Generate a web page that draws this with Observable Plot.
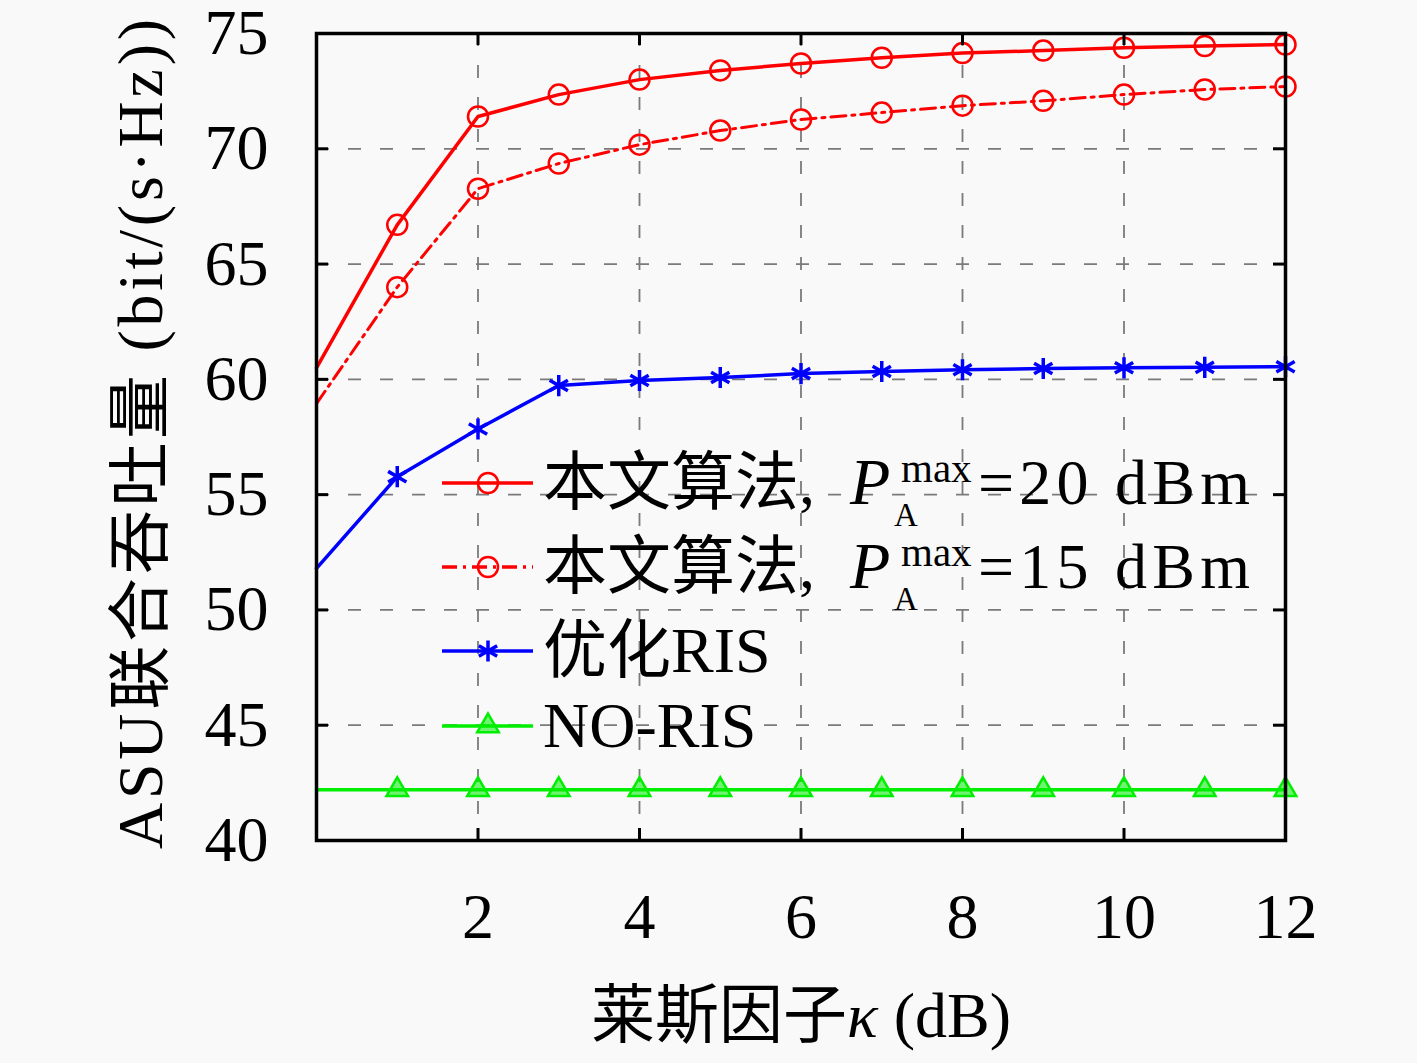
<!DOCTYPE html>
<html>
<head>
<meta charset="utf-8">
<script src="https://cdn.jsdelivr.net/npm/d3@7"></script>
<script src="https://cdn.jsdelivr.net/npm/@observablehq/plot@0.6"></script>
<style>
  html, body { margin: 0; padding: 0; background: #f9f9f9; }
  #chart svg { display: block; }
</style>
</head>
<body>
<div id="chart"></div>
<script>
// ---- data ----
const kappa  = [0, 1, 2, 3, 4, 5, 6, 7, 8, 9, 10, 11, 12];
const ours20 = [60.5, 66.7, 71.4, 72.35, 73.0, 73.4, 73.7, 73.95, 74.15, 74.26, 74.38, 74.46, 74.52];
const ours15 = [58.95, 64.0, 68.27, 69.36, 70.18, 70.79, 71.27, 71.57, 71.87, 72.08, 72.35, 72.57, 72.7];
const optRIS = [51.8, 55.78, 57.85, 59.73, 59.95, 60.08, 60.25, 60.34, 60.42, 60.47, 60.5, 60.52, 60.55];
const noRIS  = [42.2, 42.2, 42.2, 42.2, 42.2, 42.2, 42.2, 42.2, 42.2, 42.2, 42.2, 42.2, 42.2];

const xTicks = [2, 4, 6, 8, 10, 12];
const yTicks = [40, 45, 50, 55, 60, 65, 70, 75];
const xGrid = [2, 4, 6, 8, 10];
const yGrid = [45, 50, 55, 60, 65, 70];

const seriesNames = ["ours20", "ours15", "optRIS", "noRIS"];
const seriesValues = [ours20, ours15, optRIS, noRIS];
const rows = seriesNames.flatMap((s, i) => kappa.map((k, j) => ({series: s, x: k, y: seriesValues[i][j]})));
const markRows = rows.filter(d => d.x > 0);

const RED = "#ff0000", BLUE = "#0000ff", GREEN = "#00ee00";
const serif = "'Liberation Serif', 'Noto Sans CJK SC', serif";

const W = 1417, H = 1063, ML = 316, MR = 132, MT = 33, MB = 223;
const PW = W - ML - MR, PH = H - MT - MB;
const TL = 12;

const plot = Plot.plot({
  width: W, height: H,
  marginLeft: ML, marginRight: MR, marginTop: MT, marginBottom: MB,
  style: {background: "transparent", fontFamily: serif},
  x: {domain: [0, 12]},
  y: {domain: [40, 75]},
  marks: [
    Plot.ruleX(xGrid, {x: d => d, stroke: "#7a7a7a", strokeWidth: 1.8, strokeDasharray: "13,19"}),
    Plot.ruleY(yGrid, {y: d => d, stroke: "#7a7a7a", strokeWidth: 1.8, strokeDasharray: "13,19"}),
    Plot.line(rows.filter(d => d.series === "noRIS"), {x: "x", y: "y", stroke: GREEN, strokeWidth: 3.5}),
    Plot.line(rows.filter(d => d.series === "optRIS"), {x: "x", y: "y", stroke: BLUE, strokeWidth: 3.5}),
    Plot.line(rows.filter(d => d.series === "ours15"), {x: "x", y: "y", stroke: RED, strokeWidth: 3, strokeDasharray: "15,6,3,6"}),
    Plot.line(rows.filter(d => d.series === "ours20"), {x: "x", y: "y", stroke: RED, strokeWidth: 3.5}),
    Plot.dot(markRows.filter(d => d.series === "noRIS"), {x: "x", y: "y", symbol: "triangle", r: 8, fill: GREEN, fillOpacity: 0.55, stroke: GREEN, strokeWidth: 2.5}),
    Plot.dot(markRows.filter(d => d.series === "optRIS"), {x: "x", y: "y", symbol: "asterisk", r: 10, stroke: BLUE, strokeWidth: 3.5}),
    Plot.dot(markRows.filter(d => d.series === "ours15"), {x: "x", y: "y", symbol: "circle", r: 10, fill: "none", stroke: RED, strokeWidth: 2.5}),
    Plot.dot(markRows.filter(d => d.series === "ours20"), {x: "x", y: "y", symbol: "circle", r: 10, fill: "none", stroke: RED, strokeWidth: 2.5}),
    // inward tick marks on all four sides
    Plot.tickX(xTicks, {x: d => d, insetTop: PH - TL, stroke: "black", strokeWidth: 3}),
    Plot.tickX(xTicks, {x: d => d, insetBottom: PH - TL, stroke: "black", strokeWidth: 3}),
    Plot.tickY(yTicks, {y: d => d, insetRight: PW - TL, stroke: "black", strokeWidth: 3}),
    Plot.tickY(yTicks, {y: d => d, insetLeft: PW - TL, stroke: "black", strokeWidth: 3}),
    Plot.frame({stroke: "black", strokeWidth: 3.5}),
    Plot.axisX(xTicks, {tickSize: 0, tickPadding: 52, fontSize: 64, fontFamily: serif, fill: "black", label: null}),
    Plot.axisY(yTicks, {tickSize: 0, tickPadding: 48, fontSize: 64, fontFamily: serif, fill: "black", label: null})
  ]
});

document.getElementById("chart").appendChild(plot);

// ---- titles and legend (text) ----
const svg = d3.select(plot);
const g = svg.append("g")
  .attr("font-family", serif)
  .attr("fill", "black")
  .attr("text-anchor", "start");

// y title
g.append("text")
  .attr("transform", "translate(140,434) rotate(-90)")
  .attr("text-anchor", "middle")
  .attr("dominant-baseline", "central")
  .attr("font-size", 64)
  .attr("textLength", 830)
  .attr("lengthAdjust", "spacing")
  .text("ASU联合吞吐量 (bit/(s·Hz))");

// x title
const xt = g.append("text")
  .attr("x", 801).attr("y", 1037)
  .attr("text-anchor", "middle")
  .attr("font-size", 64);
xt.append("tspan").text("莱斯因子");
xt.append("tspan").attr("font-style", "italic").text("κ");
xt.append("tspan").text(" (dB)");

// legend
const legend = [
  {sy: 483, color: RED, dash: null, sym: d3.symbolCircle, r: 10, fill: "none", kind: "math", val: "=20 dBm"},
  {sy: 567, color: RED, dash: "15,6,3,6", sym: d3.symbolCircle, r: 10, fill: "none", kind: "math", val: "=15 dBm"},
  {sy: 651, color: BLUE, dash: null, sym: d3.symbolAsterisk, r: 10, fill: "none", kind: "text", label: "优化RIS"},
  {sy: 726, color: GREEN, dash: null, sym: d3.symbolTriangle, r: 8, fill: GREEN, kind: "text", label: "NO-RIS"}
];
legend.forEach(L => {
  g.append("line")
    .attr("x1", 442).attr("x2", 533).attr("y1", L.sy).attr("y2", L.sy)
    .attr("stroke", L.color).attr("stroke-width", 3.5)
    .attr("stroke-dasharray", L.dash);
  g.append("path")
    .attr("transform", `translate(488,${L.sy})`)
    .attr("d", d3.symbol().type(L.sym).size(Math.PI * L.r * L.r)())
    .attr("fill", L.fill).attr("fill-opacity", L.fill === "none" ? null : 0.55)
    .attr("stroke", L.color).attr("stroke-width", L.sym === d3.symbolAsterisk ? 3.5 : 2.5);
  const base = L.sy + 21;
  if (L.kind === "math") {
    g.append("text").attr("x", 543).attr("y", base).attr("font-size", 64).text("本文算法,");
    g.append("text").attr("x", 850).attr("y", base).attr("font-size", 66).attr("font-style", "italic").text("P");
    g.append("text").attr("x", 901).attr("y", base - 22).attr("font-size", 41).text("max");
    g.append("text").attr("x", 894).attr("y", base + 22).attr("font-size", 33).text("A");
    g.append("text").attr("x", 978).attr("y", base).attr("font-size", 64)
      .attr("textLength", 272).attr("lengthAdjust", "spacing").text(L.val);
  } else {
    g.append("text").attr("x", 543).attr("y", base).attr("font-size", 64).text(L.label);
  }
});
</script>
</body>
</html>
